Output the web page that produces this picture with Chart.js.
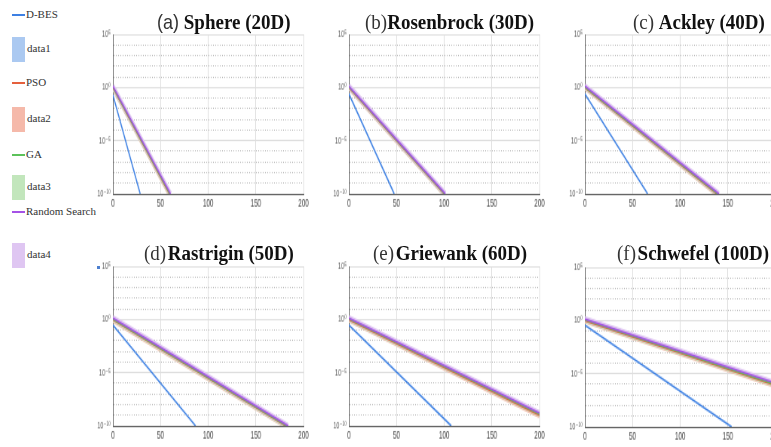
<!DOCTYPE html>
<html>
<head>
<meta charset="utf-8">
<script src="https://cdn.jsdelivr.net/npm/chart.js@4.4.1/dist/chart.umd.min.js"></script>
<style>
  html, body { margin: 0; padding: 0; background: #fff; }
  body { width: 771px; height: 447px; overflow: hidden; position: relative; }
  .panel { position: absolute; }
  .title { position: absolute; white-space: nowrap; font-size: 19px; line-height: 19px; color: #111; transform: scaleY(1.1); transform-origin: left bottom; }
  .title .tag { font-family: "Liberation Serif", "Times New Roman", serif; font-weight: normal; color: #333; }
  .title .tag.sans { font-family: "Liberation Sans", Arial, sans-serif; font-size: 18px; }
  .title .name { font-family: "Liberation Serif", "Times New Roman", serif; font-weight: bold; }
  .leg { position: absolute; font-family: "Liberation Serif", "Times New Roman", serif; font-size: 11px; color: #333; white-space: nowrap; }
  .legLine { position: absolute; height: 2px; width: 13px; }
  .legPatch { position: absolute; width: 13px; height: 25px; }
</style>
</head>
<body>
<div id="legend"></div>
<div id="panels"></div>
<script>
// panel labels
const panelLetters = ['(a)', '(b)', '(c)', '(d)', '(e)', '(f)'];
const panelNames = ['Sphere (20D)', 'Rosenbrock (30D)', 'Ackley (40D)', 'Rastrigin (50D)', 'Griewank (60D)', 'Schwefel (100D)'];

// axes
const xTicks = [0, 50, 100, 150, 200];
const yDecades = [-10, -9, -8, -7, -6, -5, -4, -3, -2, -1, 0, 1, 2, 3, 4, 5];

// convergence curves, [iteration, fitness] per panel (a)..(f)
const dbesData = [
  [[0, 0.2], [28.7, 1e-10]],
  [[0, 0.25], [47.6, 1e-10]],
  [[0, 0.25], [65.9, 1e-10]],
  [[0, 0.3], [86.8, 1e-10]],
  [[0, 0.3], [107.4, 1e-10]],
  [[0, 0.36], [154, 1e-10]]
];
const psoData = [
  [[0, 1.0], [59.3, 1e-10]],
  [[0, 1.0], [100, 1e-10]],
  [[0, 1.0], [138.5, 1e-10]],
  [[0, 0.95], [181.5, 1e-10]],
  [[0, 0.95], [200, 1e-9]],
  [[0, 0.95], [200, 7.9e-7]]
];
const gaData = [
  [[0, 1.15], [59.8, 1e-10]],
  [[0, 1.15], [100.5, 1e-10]],
  [[0, 1.15], [139.5, 1e-10]],
  [[0, 1.15], [182.5, 1e-10]],
  [[0, 1.15], [200, 1.26e-9]],
  [[0, 1.15], [200, 1e-6]]
];
const rsData = [
  [[0, 1.35], [60.5, 1e-10]],
  [[0, 1.35], [101.2, 1e-10]],
  [[0, 1.35], [140.7, 1e-10]],
  [[0, 1.4], [184, 1e-10]],
  [[0, 1.4], [200, 1.6e-9]],
  [[0, 1.4], [200, 1.26e-6]]
];

const seriesNames = ['D-BES', 'PSO', 'GA', 'Random Search'];
const bandNames = ['data1', 'data2', 'data3', 'data4'];
const lineColors = ['#3d80e3', '#e5603d', '#5cc25a', '#a552e6'];
const bandColors = ['#abc9f1', '#f5b9aa', '#c2e6bc', '#dfc6f2'];

// layout (plot area corners)
const plotLeft = [121, 357, 593, 121, 357, 593];
const plotTop = [32, 32, 32, 264, 264, 265];
const plotW = 179, plotH = 167;
const titleLeft = [157, 365, 633, 144, 373, 617];
const titleTop = [13, 13, 13, 244, 244, 244];
const titleGap = [' ', '', ' ', '&#8202;', '&#8202;', '&#8202;'];

function sup(n) {
  const map = {'0':'⁰','1':'¹','2':'²','3':'³','4':'⁴','5':'⁵','6':'⁶','7':'⁷','8':'⁸','9':'⁹','-':'⁻'};
  return String(n).split('').map(c => map[c]).join('');
}

function buildLegend() {
  const leg = document.getElementById('legend');
  const lineY = [15, 83, 155, 212];
  const patchY = [37, 107, 175, 243];
  let html = '';
  for (let i = 0; i < 4; i++) {
    html += `<div class="legLine" style="left:12px;top:${lineY[i] - 1}px;background:${lineColors[i]}"></div>`;
    html += `<div class="leg" style="left:26px;top:${lineY[i] - 7}px">${seriesNames[i]}</div>`;
    html += `<div class="legPatch" style="left:12px;top:${patchY[i]}px;background:${bandColors[i]}"></div>`;
    html += `<div class="leg" style="left:27px;top:${patchY[i] + 5}px">${bandNames[i]}</div>`;
  }
  html += '<div style="position:absolute;left:97px;top:266px;width:3px;height:3px;background:#4d7fcf"></div>';
  leg.innerHTML = html;
}

function makePanel(i) {
  const wrap = document.getElementById('panels');
  const padL = 33, padT = 8, padR = 14, padB = 18;
  const cw = padL + plotW + padR, ch = padT + plotH + padB;

  const box = document.createElement('div');
  box.className = 'panel';
  box.style.left = (plotLeft[i] - padL) + 'px';
  box.style.top = (plotTop[i] - padT) + 'px';
  box.style.width = cw + 'px';
  box.style.height = ch + 'px';
  const cv = document.createElement('canvas');
  box.appendChild(cv);
  wrap.appendChild(box);

  const title = document.createElement('div');
  title.className = 'title';
  title.style.left = titleLeft[i] + 'px';
  title.style.top = titleTop[i] + 'px';
  title.innerHTML = `<span class="tag${i === 0 ? ' sans' : ''}">${panelLetters[i]}</span>${titleGap[i]}<span class="name">${panelNames[i]}</span>`;
  wrap.appendChild(title);

  const curves = [dbesData[i], psoData[i], gaData[i], rsData[i]];
  const datasets = [];
  // Chart.js paints the first dataset on top: lines first, then shaded bands
  [3, 2, 1, 0].forEach(s => {
    datasets.push({
      label: seriesNames[s],
      data: curves[s].map(p => ({x: p[0], y: p[1]})),
      borderColor: lineColors[s],
      borderWidth: 1.5,
      pointRadius: 0,
      tension: 0
    });
  });
  [3, 2, 1].forEach(s => {
    datasets.push({
      label: bandNames[s],
      data: curves[s].map(p => ({x: p[0], y: p[1]})),
      borderColor: bandColors[s],
      borderWidth: 4.5,
      pointRadius: 0,
      tension: 0
    });
  });

  new Chart(cv, {
    type: 'line',
    data: { datasets },
    options: {
      responsive: false,
      animation: false,
      devicePixelRatio: 1,
      layout: { padding: { top: padT, right: padR, left: 0, bottom: 0 } },
      plugins: { legend: { display: false }, tooltip: { enabled: false }, title: { display: false } },
      scales: {
        x: {
          type: 'linear',
          min: 0, max: 200,
          afterBuildTicks: sc => { sc.ticks = xTicks.map(v => ({value: v})); },
          afterFit: sc => { sc.height = padB; },
          ticks: { autoSkip: false, font: { family: 'Liberation Sans, Arial', size: 8.5 }, color: '#444', padding: 3, maxRotation: 0 },
          grid: { color: '#dedede', lineWidth: 1, drawTicks: false },
          border: { color: '#666', width: 1 }
        },
        y: {
          type: 'logarithmic',
          min: 1e-10, max: 1e5,
          afterBuildTicks: sc => { sc.ticks = yDecades.map(e => ({value: Math.pow(10, e)})); },
          afterFit: sc => { sc.width = padL; },
          ticks: {
            autoSkip: false,
            font: { family: 'Liberation Sans, DejaVu Sans, Arial', size: 7.5 },
            color: '#555',
            padding: 3,
            callback: v => {
              const e = Math.round(Math.log10(v));
              return e % 5 === 0 ? '10' + sup(e) : '';
            }
          },
          grid: {
            drawTicks: false,
            lineWidth: 1,
            color: ctx => {
              if (!ctx.tick) return '#dedede';
              const e = Math.round(Math.log10(ctx.tick.value));
              return e % 5 === 0 ? '#dedede' : '#b8b8b8';
            }
          },
          border: {
            color: '#666', width: 1,
            dash: ctx => {
              if (!ctx.tick) return [];
              const e = Math.round(Math.log10(ctx.tick.value));
              return e % 5 === 0 ? [] : [1, 2];
            }
          }
        }
      }
    }
  });
  cv.style.width = cw + 'px';
  cv.style.height = ch + 'px';
}

buildLegend();
for (let i = 0; i < 6; i++) makePanel(i);
</script>
</body>
</html>
